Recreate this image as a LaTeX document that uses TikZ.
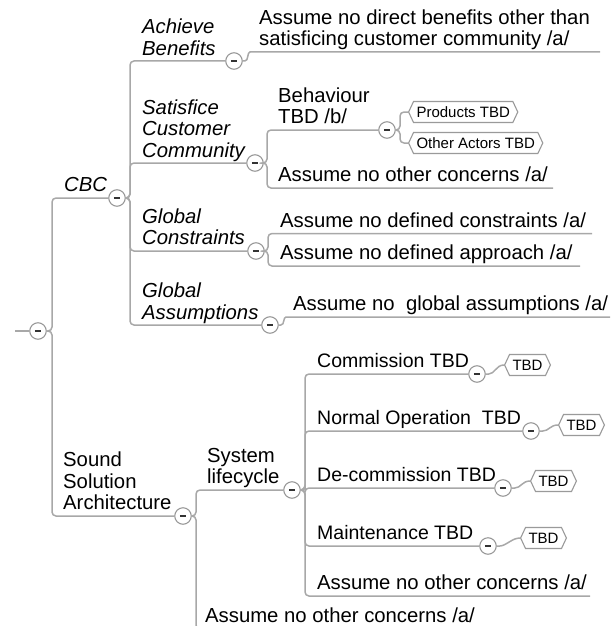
\documentclass[tikz,border=0pt]{standalone}
\usepackage{fontspec}
\setmainfont{Liberation Sans}
\usetikzlibrary{shapes.symbols}
\definecolor{linkgray}{HTML}{A8A8A8}
\definecolor{knobgray}{HTML}{9A9A9A}
\newcommand\knobbar{\textcolor{black!80}{\rule{6.5pt}{1.3pt}}}
\begin{document}
\begin{tikzpicture}[x=1pt,y=-1pt,
  link/.style={draw=linkgray,line width=1.5pt,rounded corners=4pt},
  curl/.style={draw=linkgray,line width=1.5pt},
  knob/.style={circle,draw=knobgray,line width=1.1pt,fill=white,minimum size=16.5pt,inner sep=0pt},
  topic/.style={anchor=south west,inner sep=0pt,text depth=0pt,align=left,font=\fontsize{20.3}{21.5}\selectfont},
  itopic/.style={topic,font=\fontsize{20.3}{21.5}\selectfont\itshape},
  stage/.style={topic,font=\fontsize{19.5}{21.5}\selectfont},
  tag/.style={signal,signal to=west and east,signal pointer angle=130,draw=knobgray,line width=1.1pt,fill=white,minimum height=21pt,inner xsep=3pt,inner ysep=0pt,anchor=west,font=\fontsize{15}{16}\selectfont}
]
\useasboundingbox (0,0) rectangle (613,626);
\clip (0,0) rectangle (613,626);

% ---- root ----
\node[knob] (rootk) at (38,331) {\knobbar};
\coordinate (stub) at (15,331);
\draw[link] (stub) -- (rootk.west);

% ---- first level ----
\node[itopic] (cbc) at (64,192) {CBC};
\node[knob] (cbck) at (117,198) {\knobbar};
\node[topic] (ssa) at (63,510) {Sound\\Solution\\Architecture};
\node[knob] (ssak) at (183,516) {\knobbar};
\draw[link] (rootk.east) -- (52,331) -- (52,198) -- (cbck.west);
\draw[link] (rootk.east) -- (52,331) -- (52,516) -- (ssak.west);

% ---- CBC branch ----
\node[itopic] (ab) at (142,55.5) {Achieve\\Benefits};
\node[knob] (abk) at (234,61) {\knobbar};
\node[itopic] (scc) at (142,157.5) {Satisfice\\Customer\\Community};
\node[knob] (scck) at (255,163) {\knobbar};
\node[itopic] (gc) at (142,245) {Global\\Constraints};
\node[knob] (gck) at (256,251) {\knobbar};
\node[itopic] (ga) at (142,319.5) {Global\\Assumptions};
\node[knob] (gak) at (270,325) {\knobbar};
\draw[link] (cbck.east) -- (130,198) -- (130,61) -- (abk.west);
\draw[link] (cbck.east) -- (130,198) -- (130,163) -- (scck.west);
\draw[link] (cbck.east) -- (130,198) -- (130,251) -- (gck.west);
\draw[link] (cbck.east) -- (130,198) -- (130,325) -- (gak.west);

% Achieve Benefits
\node[topic] (abc) at (259,46) {Assume no direct benefits other than\\satisficing customer community /a/};
\coordinate (abcend) at (600,52);
\draw[curl] (abk.east) -- ++(2,0) .. controls +(4,0) and +(-3,0) .. (250,52) -- (abcend);

% Satisfice Customer Community
\node[topic] (beh) at (278,124) {Behaviour\\TBD /b/};
\node[knob] (behk) at (387,130) {\knobbar};
\node[topic] (sccn) at (278,182) {Assume no other concerns /a/};
\coordinate (sccnend) at (553,188);
\draw[link] (scck.east) -- (267,163) -- (267,130) -- (behk.west);
\draw[link] (scck.east) -- (267,163) -- (267,188) -- (sccnend);

\node[tag] (prod) at (408,112) {Products TBD};
\node[tag] (oact) at (408,143) {Other Actors TBD};
\draw[link] (behk.east) -- (400,130) -- (400,112) -- (prod.west);
\draw[link] (behk.east) -- (400,130) -- (400,143) -- (oact.west);

% Global Constraints
\node[topic] (gc1) at (280,227.5) {Assume no defined constraints /a/};
\coordinate (gc1end) at (592,233.5);
\node[topic] (gc2) at (280,260) {Assume no defined approach /a/};
\coordinate (gc2end) at (580,266);
\draw[link] (gck.east) -- (268,251) -- (268,233.5) -- (gc1end);
\draw[link] (gck.east) -- (268,251) -- (268,266) -- (gc2end);

% Global Assumptions
\node[topic] (ga1) at (293,311) {Assume no\ \ global assumptions /a/};
\coordinate (ga1end) at (610,317);
\draw[curl] (gak.east) -- ++(2,0) .. controls +(4,0) and +(-3,0) .. (286,317) -- (ga1end);

% ---- Sound Solution Architecture branch ----
\node[topic] (sl) at (207,484) {System\\lifecycle};
\node[knob] (slk) at (292,490) {\knobbar};
\node[topic] (ssan) at (205,623) {Assume no other concerns /a/};
\coordinate (ssanend) at (500,629);
\draw[link] (ssak.east) -- (196,516) -- (196,490) -- (slk.west);
\draw[link] (ssak.east) -- (196,516) -- (196,629) -- (ssanend);

% System lifecycle stages
\node[stage] (com) at (317,368) {Commission TBD};
\node[knob] (comk) at (477,374) {\knobbar};
\node[tag] (comt) at (504,365) {TBD};
\node[stage] (nop) at (317,425) {Normal Operation\ \ TBD};
\node[knob] (nopk) at (531,431) {\knobbar};
\node[tag] (nopt) at (558,425) {TBD};
\node[stage] (dec) at (317,482) {De-commission TBD};
\node[knob] (deck) at (503,488) {\knobbar};
\node[tag] (dect) at (530,481) {TBD};
\node[stage] (mnt) at (317,540) {Maintenance TBD};
\node[knob] (mntk) at (488,546) {\knobbar};
\node[tag] (mntt) at (520,538) {TBD};
\node[topic] (sln) at (317,590) {Assume no other concerns /a/};
\coordinate (slnend) at (590,596);

\draw[link] (slk.east) -- (305,490) -- (305,374) -- (comk.west);
\draw[link] (slk.east) -- (305,490) -- (305,431) -- (nopk.west);
\draw[link] (slk.east) -- (305,490) -- (305,488) -- (deck.west);
\draw[link] (slk.east) -- (305,490) -- (305,546) -- (mntk.west);
\draw[link] (slk.east) -- (305,490) -- (305,596) -- (slnend);

\draw[curl] (comk.east) -- ++(3,0) .. controls +(6,0) and +(-8,0) .. (comt.west);
\draw[curl] (nopk.east) -- ++(3,0) .. controls +(6,0) and +(-8,0) .. (nopt.west);
\draw[curl] (deck.east) -- ++(3,0) .. controls +(6,0) and +(-8,0) .. (dect.west);
\draw[curl] (mntk.east) -- ++(3,0) .. controls +(6,0) and +(-8,0) .. (mntt.west);
\end{tikzpicture}
\end{document}
